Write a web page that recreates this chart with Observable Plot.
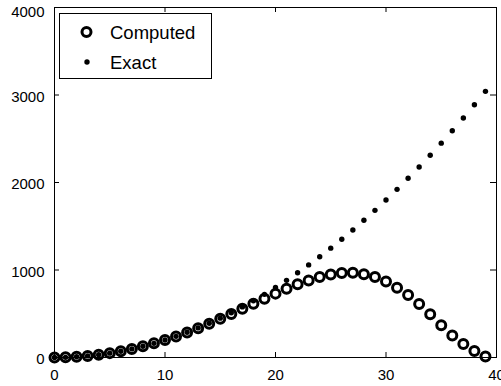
<!DOCTYPE html>
<html>
<head>
<meta charset="utf-8">
<script src="https://cdn.jsdelivr.net/npm/d3@7"></script>
<script src="https://cdn.jsdelivr.net/npm/@observablehq/plot@0.6"></script>
<style>
  html, body { margin: 0; padding: 0; background: white; }
  #wrap { position: relative; width: 501px; height: 386px; overflow: hidden; }
  #legend { position: absolute; left: 0; top: 0; }
</style>
</head>
<body>
<div id="wrap"></div>
<script>
const xs = [0,1,2,3,4,5,6,7,8,9,10,11,12,13,14,15,16,17,18,19,20,21,22,23,24,25,26,27,28,29,30,31,32,33,34,35,36,37,38,39];
const exact = [0,2,8,18,32,50,72,98,128,162,200,242,288,338,392,450,512,578,648,722,800,882,968,1058,1152,1250,1352,1458,1568,1682,1800,1922,2048,2178,2312,2450,2592,2738,2888,3042];
const computed = [0,2,8,18,32,50,72,98,128,162,200,241,286,335,387,442,498,556,614,672,730,786,836,881,920,948,965,968,952,920,868,798,715,612,494,368,252,155,75,12];
const xTicks = [0,10,20,30,40];
const yTicks = [0,1000,2000,3000,4000];
const yLabelsLow = [0,1000,2000,3000];
const yLabelsTop = [4000];
const seriesNames = ["Computed", "Exact"];

const data = xs.map((x, i) => ({x, exact: exact[i], computed: computed[i]}));
const fmt = d => String(d);

const chart = Plot.plot({
  width: 501,
  height: 386,
  marginLeft: 54,
  marginRight: 5,
  marginTop: 7,
  marginBottom: 29,
  style: {fontFamily: "'Liberation Sans', Arial, Helvetica, sans-serif", fontSize: "15px", color: "black", background: "white", overflow: "visible"},
  x: {domain: [0, 40], label: null},
  y: {domain: [0, 4000], label: null},
  marks: [
    Plot.tickX(xTicks, {x: d => d, stroke: "black", insetTop: 345}),
    Plot.tickX(xTicks, {x: d => d, stroke: "black", insetBottom: 345}),
    Plot.tickY(yTicks, {y: d => d, stroke: "black", insetRight: 437}),
    Plot.tickY(yTicks, {y: d => d, stroke: "black", insetLeft: 436}),
    Plot.frame({stroke: "black", strokeWidth: 1}),
    Plot.axisX(xTicks, {tickSize: 0, tickPadding: 12, fontSize: 15, tickFormat: fmt}),
    Plot.axisY(yLabelsLow, {tickSize: 0, tickPadding: 10, dy: 2, fontSize: 15, tickFormat: fmt}),
    Plot.axisY(yLabelsTop, {tickSize: 0, tickPadding: 10, dy: 5, fontSize: 15, tickFormat: fmt}),
    Plot.dot(data, {x: "x", y: "computed", r: 4.5, stroke: "black", strokeWidth: 3, fill: "none"}),
    Plot.dot(data, {x: "x", y: "exact", r: 2.7, fill: "black", stroke: "none"})
  ]
});

const wrap = document.getElementById("wrap");
wrap.appendChild(chart);

// legend overlay
const ns = "http://www.w3.org/2000/svg";
const lg = document.createElementNS(ns, "svg");
lg.setAttribute("id", "legend");
lg.setAttribute("width", 501);
lg.setAttribute("height", 386);
lg.innerHTML = `
  <rect x="59.5" y="13.5" width="152" height="65" fill="white" stroke="black" stroke-width="1"/>
  <circle cx="86.5" cy="32" r="4.5" fill="none" stroke="black" stroke-width="3"/>
  <circle cx="87" cy="62" r="2.7" fill="black"/>
  <text x="110" y="39" font-family="'Liberation Sans', Arial, Helvetica, sans-serif" font-size="18.5" fill="black">${seriesNames[0]}</text>
  <text x="110" y="68.5" font-family="'Liberation Sans', Arial, Helvetica, sans-serif" font-size="18.5" fill="black">${seriesNames[1]}</text>
`;
wrap.appendChild(lg);
</script>
</body>
</html>
